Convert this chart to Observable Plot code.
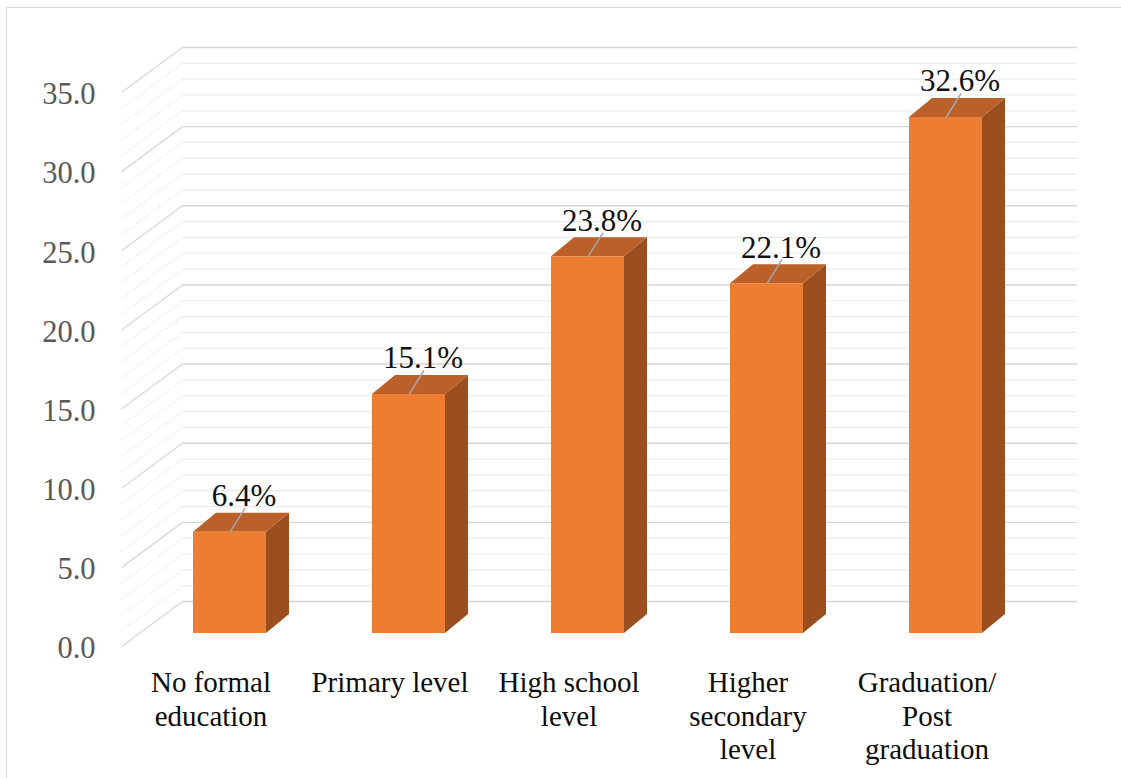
<!DOCTYPE html>
<html>
<head>
<meta charset="utf-8">
<script src="https://cdn.jsdelivr.net/npm/d3@7"></script>
<script src="https://cdn.jsdelivr.net/npm/@observablehq/plot@0.6"></script>
<style>
  html, body { margin: 0; padding: 0; background: #fff; overflow: hidden; }
  #wrap { position: relative; width: 1121px; height: 778px; }
  #wrap svg, #wrap svg text, #wrap svg tspan, #wrap svg g { font-family: "Liberation Serif", "DejaVu Serif", serif !important; }
  #border { position: absolute; left: 6px; top: 7px; width: 1200px; height: 900px;
            border: 1.5px solid #D9D9D9; pointer-events: none; }
</style>
</head>
<body>
<div id="wrap"><div id="border"></div></div>
<script>
// Education level of respondents (% share)
const categories = ["No formal education", "Primary level", "High school level", "Higher secondary level", "Graduation/ Post graduation"];
const categoryLabels = ["No formal\neducation", "Primary level", "High school\nlevel", "Higher\nsecondary\nlevel", "Graduation/\nPost\ngraduation"];
const shares = [6.4, 15.1, 23.8, 22.1, 32.6];
const yTicks = [0, 5, 10, 15, 20, 25, 30, 35];

const rows = categories.map((c, i) => ({category: c, label: categoryLabels[i], i, value: shares[i]}));

// Pseudo-3D geometry (pixels)
const W = 1121, H = 778;
const ML = 121, MR = 105, MT = 92, MB = 132;
const pxX = (W - ML - MR) / 5;          // pixels per category slot
const pxY = (H - MT - MB) / 35;         // pixels per percentage point
const wallDX = 61, wallDY = 45;         // depth of the floor / back wall
const barDX = 19, barDY = 13;           // bar front face depth
const sideDX = 23, sideDY = 19;         // bar depth
const halfBar = 36.5 / pxX;

const u = (px) => px / pxX, v = (px) => px / pxY;

const minor = d3.range(0, 36);
const isMajor = d => d % 5 === 0;

// faces of each bar as parallelograms in data units
const sideFaces = rows.flatMap(d => [
  {i: d.i, x: d.i + halfBar, y1: 0, y2: d.value},
  {i: d.i, x: d.i + halfBar + u(sideDX), y1: v(sideDY), y2: d.value + v(sideDY)}
]);
const topFaces = rows.flatMap(d => [
  {i: d.i, y: d.value, x1: d.i - halfBar, x2: d.i + halfBar},
  {i: d.i, y: d.value + v(sideDY), x1: d.i - halfBar + u(sideDX), x2: d.i + halfBar + u(sideDX)}
]);

const font = "Liberation Serif, DejaVu Serif, serif";

const chart = Plot.plot({
  width: W, height: H,
  marginLeft: ML, marginRight: MR, marginTop: MT, marginBottom: MB,
  style: {background: "transparent", overflow: "visible", fontFamily: font},
  x: {type: "linear", domain: [-0.5, 4.5], axis: null},
  y: {domain: [0, 35]},
  marks: [
    // back wall gridlines
    Plot.ruleY(minor.filter(d => !isMajor(d)), {y: d => d, x1: -0.5, x2: 4.5, dx: wallDX, dy: -wallDY, stroke: "#EBEBEB", strokeWidth: 1.2}),
    Plot.ruleY(minor.filter(isMajor), {y: d => d, x1: -0.5, x2: 4.5, dx: wallDX, dy: -wallDY, stroke: "#D6D6D6", strokeWidth: 1.4}),
    // side wall gridlines
    Plot.link(minor.filter(d => !isMajor(d)), {x1: () => -0.5, y1: d => d, x2: () => -0.5 + u(wallDX), y2: d => d + v(wallDY), stroke: "#EDEDED", strokeWidth: 1.1, strokeDasharray: "3,1.5"}),
    Plot.link(minor.filter(isMajor), {x1: () => -0.5, y1: d => d, x2: () => -0.5 + u(wallDX), y2: d => d + v(wallDY), stroke: "#D9D9D9", strokeWidth: 1.3}),
    // bars: side, top, front
    Plot.areaY(sideFaces, {x: "x", y1: "y1", y2: "y2", z: "i", fill: "#9B4F1E", dx: barDX, dy: -barDY}),
    Plot.areaX(topFaces, {y: "y", x1: "x1", x2: "x2", z: "i", fill: "#BA6028", dx: barDX, dy: -barDY}),
    Plot.rect(rows, {x1: d => d.i - halfBar, x2: d => d.i + halfBar, y1: () => 0, y2: "value", fill: "#ED7D31", dx: barDX, dy: -barDY}),
    // leader lines and value labels
    Plot.link(rows, {x1: "i", y1: "value", x2: d => d.i + u(15), y2: d => d.value + v(24), stroke: "#A6A6A6", strokeWidth: 1.5, dx: barDX, dy: -barDY}),
    Plot.text(rows, {x: "i", y: "value", text: d => d.value.toFixed(1) + "%", lineAnchor: "bottom", dx: barDX + 14, dy: -barDY - 26, fontSize: 31, fontFamily: font, fill: "#111"}),
    // value axis
    Plot.axisY({ticks: yTicks, tickFormat: d3.format(".1f"), tickSize: 0, tickPadding: 26, fontSize: 30.5, fontFamily: font, color: "#595959", label: null, dy: 2}),
    // category labels
    Plot.text(rows, {x: "i", y: () => 0, text: "label", lineAnchor: "top", lineHeight: 1.155, dy: 22, fontSize: 29, fontFamily: font, fill: "#0D0D0D"})
  ]
});

chart.style.position = "absolute";
chart.style.left = "0px";
chart.style.top = "0px";
document.getElementById("wrap").appendChild(chart);
</script>
</body>
</html>
